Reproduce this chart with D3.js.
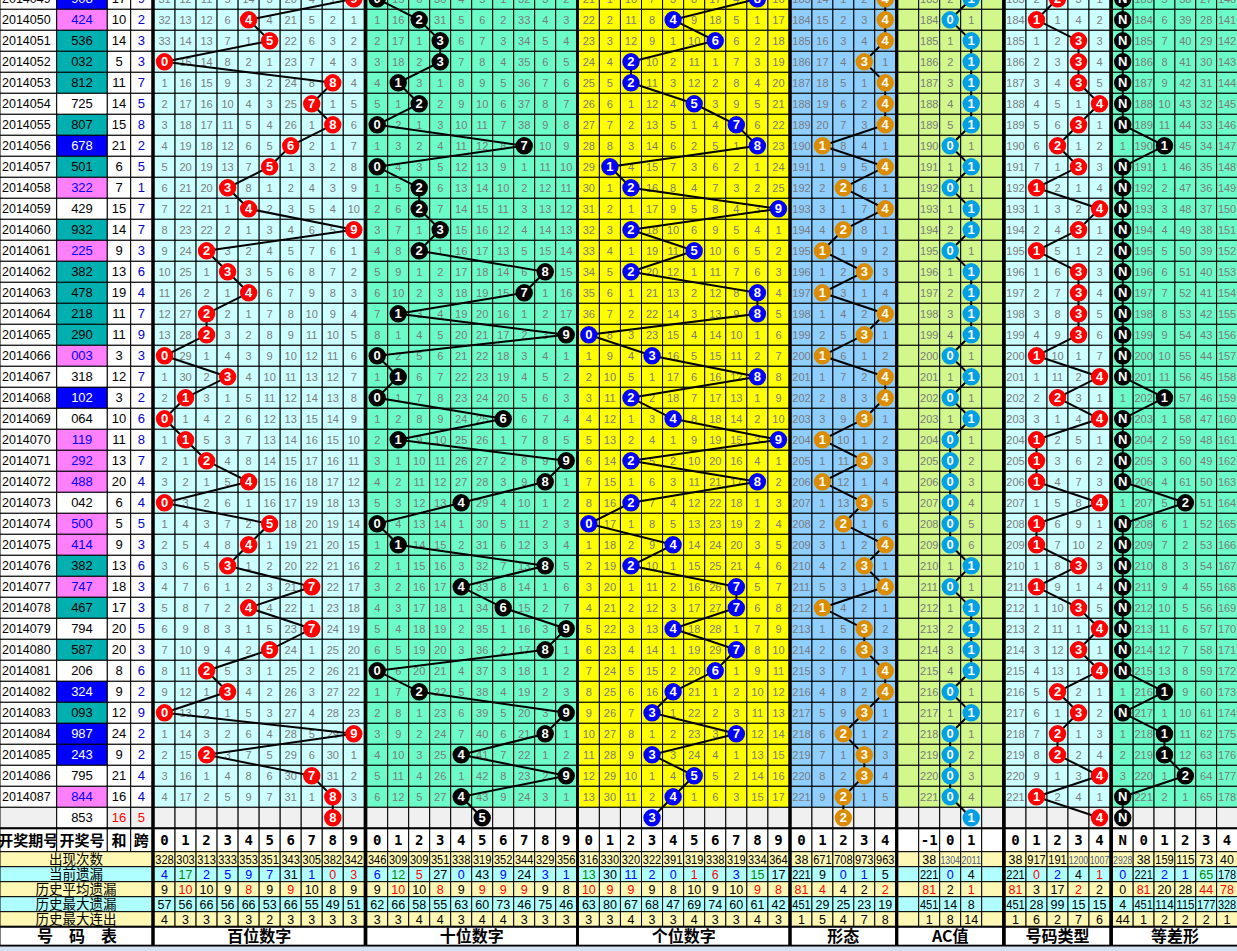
<!DOCTYPE html>
<html><head><meta charset="utf-8">
<script src="https://cdn.jsdelivr.net/npm/d3@7"></script>
<style>body{margin:0;background:#fff}svg{display:block}</style>
</head><body><svg id="c" width="1237" height="951"></svg>
<script>
// ---------------- DATA ----------------
const periods = ["2014049","2014050","2014051","2014052","2014053","2014054","2014055","2014056","2014057","2014058","2014059","2014060","2014061","2014062","2014063","2014064","2014065","2014066","2014067","2014068","2014069","2014070","2014071","2014072","2014073","2014074","2014075","2014076","2014077","2014078","2014079","2014080","2014081","2014082","2014083","2014084","2014085","2014086","2014087"];
const draws = ["908","424","536","032","812","725","807","678","501","322","429","932","225","382","478","218","290","003","318","102","064","119","292","488","042","500","414","382","747","467","794","587","206","324","093","987","243","795","844"];
const sums  = [17,10,14,5,11,14,15,21,6,7,15,14,9,13,19,11,11,3,12,3,10,11,13,20,6,5,9,13,18,17,20,20,8,9,12,24,9,21,16];
const spans = [9,2,3,3,7,5,8,2,5,1,7,7,3,6,4,7,9,3,7,2,6,8,7,4,4,5,3,6,3,3,5,3,6,2,9,2,2,4,4];
// b = consecutive (blue), t = teal, p = pair (pink), w = plain
const numTypes = ["b","p","t","t","t","w","t","b","t","p","w","t","p","t","t","t","t","p","w","b","w","p","p","p","w","p","p","t","p","t","w","t","w","b","t","b","b","w","p"];
const shapeSeq = [4,4,4,3,4,4,4,1,4,2,4,2,1,3,1,4,3,1,4,4,3,1,3,1,3,2,4,3,4,1,3,3,4,4,3,2,3,3,2];
const acSeq    = [1,0,1,1,1,1,1,0,1,0,1,1,0,1,1,1,1,0,1,0,1,0,0,0,0,0,0,1,0,1,1,1,1,0,1,0,0,0,0];
const typeSeq  = [2,1,3,3,3,4,3,2,3,1,4,3,1,3,3,3,3,1,4,2,4,1,1,1,4,1,1,3,1,3,4,3,4,2,3,2,2,4,1];
const apSeq    = ["N","N","N","N","N","N","N","1","N","N","N","N","N","N","N","N","N","N","N","1","N","N","N","N","2","N","N","N","N","N","N","N","N","1","N","1","1","2","N"];
// next-draw row
const nextNumber = "853", nextSum = 16, nextSpan = 5;
const nextBalls = ["8","5","3","2","1","4","N"];
// omission values shown in the first (2014049) row
const initBai   = [31,12,11,5,14,3,20,4,1,0];
const initShi   = [0,15,6,30,4,5,1,32,3,2];
const initGe    = [21,1,10,7,3,8,17,4,0,16];
const initShape = [183,14,1,2,0];
const initAC    = [183,2,0];
const initType  = [183,2,0,3,1];
const initAP    = [0,183,5,38,27,140];
// statistics rows (51 columns: 10+10+10+5+5(AC incl. blanks)+5+6)
const statOccur   = [328,303,313,333,353,351,343,305,382,342, 346,309,309,351,338,319,352,344,329,356, 316,330,320,322,391,319,338,319,334,364, 38,671,708,973,963, null,38,1304,2011,null, 38,917,191,1200,1007, 2928,38,159,115,73,40];
const statCurrent = [4,17,2,5,9,7,31,1,0,3, 6,12,5,27,0,43,9,24,3,1, 13,30,11,2,0,1,6,3,15,17, 221,9,0,1,5, null,221,0,4,null, 221,0,2,4,1, 0,221,2,1,65,178];
const statAvg     = [9,10,10,9,8,9,9,10,8,9, 9,10,10,8,9,9,9,9,9,8, 10,9,9,9,8,10,9,10,9,8, 81,4,4,2,2, null,81,2,1,null, 81,3,17,2,2, 0,81,20,28,44,78];
const statMax     = [57,56,66,56,66,53,66,55,49,51, 62,66,58,55,63,60,73,46,75,46, 63,80,67,68,47,69,74,60,61,42, 451,29,25,23,19, null,451,14,8,null, 451,28,99,15,15, 4,451,114,115,177,328];
const statRun     = [4,3,3,3,3,2,3,3,3,3, 3,3,4,4,3,4,4,3,3,3, 3,3,4,3,3,4,3,3,4,3, 1,5,4,7,8, null,1,8,14,null, 1,6,2,7,6, 44,1,2,2,2,1];
const colorsCurrent = "bgbbbbkbrr"+"bgrkbkbkbb"+"gkbbbrrbgk"+"kkbbk"+"-kbk-"+"krbkr"+"bkbbgk";
const colorsAvg     = "krkkrkrkkk"+"krkrkrrrkk"+"rrrkkkkkrr"+"rrkkr"+"-rkr-"+"rkkrk"+"krkkrr";
const statLabels = ["出现次数","当前遗漏","历史平均遗漏","历史最大遗漏","历史最大连出"];
const sectionLabels = ["百位数字","十位数字","个位数字","形态","AC值","号码类型","等差形"];
const digits = ["0","1","2","3","4","5","6","7","8","9"];

// ---------------- LAYOUT ----------------
const svg = d3.select("#c");
const FONT = "'Liberation Sans', Arial, sans-serif";
const CJK = "'Noto Sans CJK SC', sans-serif";
const rowKeys = periods.concat(["next"]);
const y = d3.scaleBand().domain(rowKeys).range([-11.7, -11.7 + rowKeys.length * 21]);
const rh = y.bandwidth();
const tableBottom = y("next") + rh; // 828.3
const headerY0 = tableBottom, headerY1 = 851.7;
const statY = d3.scaleBand().domain(statLabels).range([851.7, 926.7]);
const labelY0 = 926.7, labelY1 = 945.7;
const colorMap = {k:"#000", b:"#0000FF", g:"#008800", r:"#FF0000"};

const sections = [
  {key:"bai", x0:154, x1:364.3, cols:digits, active:digits, bg:"#CCFFFF", ball:"#FF0000", seq:draws.map(d=>d[0]), init:initBai},
  {key:"shi", x0:366.7, x1:576.7, cols:digits, active:digits, bg:"#6CFCC8", ball:"#000000", seq:draws.map(d=>d[1]), init:initShi},
  {key:"ge", x0:578.3, x1:789, cols:digits, active:digits, bg:"#FFFF00", ball:"#0000FF", seq:draws.map(d=>d[2]), init:initGe},
  {key:"shape", x0:791, x1:895.7, cols:["0","1","2","3","4"], active:["0","1","2","3","4"], bg:"#8ECFFF", ball:"#DC8C00", seq:shapeSeq.map(String), init:initShape},
  {key:"ac", x0:897.7, x1:1002.7, cols:["xa","-1","0","1","xb"], active:["-1","0","1"], bg:"#D2F88C", ball:"#00A0E6", seq:acSeq.map(String), init:initAC},
  {key:"type", x0:1005, x1:1110, cols:["0","1","2","3","4"], active:["0","1","2","3","4"], bg:"#CCFFFF", ball:"#FF0000", seq:typeSeq.map(String), init:initType},
  {key:"ap", x0:1112.3, x1:1237.5, cols:["N","0","1","2","3","4"], active:["N","0","1","2","3","4"], bg:"#6CFCC8", ball:"#000000", seq:apSeq, init:initAP}
];
sections.forEach((s,i)=>{ s.next = nextBalls[i]; s.label = sectionLabels[i]; });

// ---------------- LEFT COLUMNS ----------------
const left = svg.append("g");
const leftCols = [{x0:0,x1:56.7},{x0:56.7,x1:107.3},{x0:107.3,x1:130.7},{x0:130.7,x1:152}];
const typeFill = {b:"#0000FF", t:"#00B0B0", p:"#FF80FF", w:"#FFFFFF"};
const typeText = {b:"#FFFFFF", t:"#000000", p:"#0000FF", w:"#000000"};
periods.forEach((p,i)=>{
  const yy = y(p), cy = yy + rh/2 + 4.5;
  left.append("rect").attr("x",0).attr("y",yy).attr("width",56.7).attr("height",rh).attr("fill","#fff").attr("stroke","#000");
  left.append("rect").attr("x",56.7).attr("y",yy).attr("width",50.6).attr("height",rh).attr("fill",typeFill[numTypes[i]]).attr("stroke","#000");
  left.append("rect").attr("x",107.3).attr("y",yy).attr("width",23.4).attr("height",rh).attr("fill","#fff").attr("stroke","#000");
  left.append("rect").attr("x",130.7).attr("y",yy).attr("width",21.3).attr("height",rh).attr("fill","#fff").attr("stroke","#000");
  left.append("text").attr("x",2).attr("y",cy).text(p).attr("font-family",FONT).attr("font-size",12.5).attr("fill","#000");
  left.append("text").attr("x",82).attr("y",cy).attr("text-anchor","middle").text(draws[i]).attr("font-family",FONT).attr("font-size",13).attr("fill",typeText[numTypes[i]]);
  left.append("text").attr("x",119).attr("y",cy).attr("text-anchor","middle").text(sums[i]).attr("font-family",FONT).attr("font-size",13).attr("fill","#000");
  left.append("text").attr("x",141.3).attr("y",cy).attr("text-anchor","middle").text(spans[i]).attr("font-family",FONT).attr("font-size",13).attr("fill","#0000CC");
});
{
  const yy = y("next"), cy = yy + rh/2 + 4.5;
  leftCols.forEach((c,j)=>left.append("rect").attr("x",c.x0).attr("y",yy).attr("width",c.x1-c.x0).attr("height",rh).attr("fill", j===1?"#fff":"#F0F0F0").attr("stroke","#000"));
  left.append("text").attr("x",82).attr("y",cy).attr("text-anchor","middle").text(nextNumber).attr("font-family",FONT).attr("font-size",13).attr("fill","#000");
  left.append("text").attr("x",119).attr("y",cy).attr("text-anchor","middle").text(nextSum).attr("font-family",FONT).attr("font-size",13).attr("fill","#FF0000");
  left.append("text").attr("x",141.3).attr("y",cy).attr("text-anchor","middle").text(nextSpan).attr("font-family",FONT).attr("font-size",13).attr("fill","#FF0000");
}

// ---------------- SECTIONS ----------------
sections.forEach(s=>{
  const x = d3.scaleBand().domain(s.cols).range([s.x0, s.x1]);
  s.x = x;
  const bw = x.bandwidth();
  const miss = [];
  s.seq.forEach((v,i)=>{
    const row = {};
    s.active.forEach((c,j)=>{ row[c] = i===0 ? s.init[j] : (v===c ? 0 : miss[i-1][c]+1); });
    miss.push(row);
  });
  const g = svg.append("g");
  rowKeys.forEach((rk,i)=>{
    s.cols.forEach(c=>{
      g.append("rect").attr("x",x(c)).attr("y",y(rk)).attr("width",bw).attr("height",rh)
        .attr("fill", rk==="next" ? "#F0F0F0" : s.bg).attr("stroke","#000").attr("stroke-width",1);
    });
    if (rk==="next") return;
    s.active.forEach(c=>{
      if (s.seq[i]===c) return;
      g.append("text").attr("x",x(c)+bw/2).attr("y",y(rk)+rh/2+4).attr("text-anchor","middle")
        .attr("font-family",FONT).attr("font-size",11).attr("fill","#7a7a7a").text(miss[i][c]);
    });
  });
  s.pts = s.seq.map((v,i)=>[x(v)+bw/2, y(periods[i])+rh/2]).concat([[x(s.next)+bw/2, y("next")+rh/2]]);
  s.labels = s.seq.concat([s.next]);
});
const lg = svg.append("g");
sections.forEach(s=>{
  lg.append("path").attr("d", d3.line()(s.pts)).attr("fill","none").attr("stroke","#000").attr("stroke-width",2);
});
const bg = svg.append("g");
sections.forEach(s=>{
  s.pts.forEach((p,i)=>{
    bg.append("circle").attr("cx",p[0]).attr("cy",p[1]).attr("r",8.7).attr("fill",s.ball);
    bg.append("text").attr("x",p[0]).attr("y",p[1]+4.6).attr("text-anchor","middle")
      .attr("font-family",FONT).attr("font-weight","bold").attr("font-size",13).attr("fill","#fff").text(s.labels[i]);
  });
});

// ---------------- HEADER / STATS ----------------
const st = svg.append("g");
const leftHead = ["开奖期号","开奖号","和","跨"];
leftCols.forEach((c,j)=>{
  st.append("rect").attr("x",c.x0).attr("y",headerY0).attr("width",c.x1-c.x0).attr("height",headerY1-headerY0).attr("fill","#fff").attr("stroke","#000");
  st.append("text").attr("x",(c.x0+c.x1)/2).attr("y",headerY0+17.5).attr("text-anchor","middle")
    .attr("font-family",CJK).attr("font-weight","bold").attr("font-size",15).attr("fill","#000").text(leftHead[j]);
});
const rowFills = ["#FFF8B4","#B0FFFF","#FFF8B4","#B0FFFF","#FFF8B4"];
const statData = [statOccur, statCurrent, statAvg, statMax, statRun];
const statColors = [null, colorsCurrent, colorsAvg, null, null];
statLabels.forEach((lab,r)=>{
  st.append("rect").attr("x",0).attr("y",statY(lab)).attr("width",152).attr("height",statY.bandwidth()).attr("fill",rowFills[r]).attr("stroke","#000");
  st.append("text").attr("x",76).attr("y",statY(lab)+12).attr("text-anchor","middle")
    .attr("font-family",CJK).attr("font-size",13.5).attr("fill","#000").text(lab);
});
st.append("rect").attr("x",0).attr("y",labelY0).attr("width",152).attr("height",labelY1-labelY0).attr("fill","#fff").attr("stroke","#000");
st.append("text").attr("x",77).attr("y",labelY0+15.5).attr("text-anchor","middle").attr("font-family",CJK).attr("font-weight","bold")
  .attr("font-size",16).attr("fill","#000").text("号　码　表");

let colIndex = 0;
sections.forEach(s=>{
  const x = s.x, bw = x.bandwidth();
  s.cols.forEach(c=>{
    const blank = c.startsWith("x");
    st.append("rect").attr("x",x(c)).attr("y",headerY0).attr("width",bw).attr("height",headerY1-headerY0).attr("fill","#fff").attr("stroke","#000");
    if (!blank) st.append("text").attr("x",x(c)+bw/2).attr("y",headerY0+17).attr("text-anchor","middle")
      .attr("font-family","'DejaVu Sans Mono', monospace").attr("font-weight","bold").attr("font-size",14).attr("fill","#000").text(c);
    statLabels.forEach((lab,r)=>{
      st.append("rect").attr("x",x(c)).attr("y",statY(lab)).attr("width",bw).attr("height",statY.bandwidth()).attr("fill",rowFills[r]).attr("stroke","#000");
      const v = statData[r][colIndex];
      if (v===null || v===undefined) return;
      const col = statColors[r] ? colorMap[statColors[r][colIndex]] || "#000" : "#000";
      const t = st.append("text").attr("x",x(c)+bw/2).attr("y",statY(lab)+12).attr("text-anchor","middle")
        .attr("font-family",FONT).attr("fill",col).text(v);
      if (String(v).length>=4) t.attr("font-size",10.5).attr("textLength",bw-1.5).attr("lengthAdjust","spacingAndGlyphs").attr("fill","#4a5a7a");
      else if (String(v).length===3) t.attr("font-size",12).attr("textLength",bw-2.5).attr("lengthAdjust","spacingAndGlyphs");
      else t.attr("font-size",12.5);
    });
    colIndex++;
  });
  st.append("rect").attr("x",s.x0).attr("y",labelY0).attr("width",s.x1-s.x0).attr("height",labelY1-labelY0).attr("fill","#fff").attr("stroke","#000");
  st.append("text").attr("x",(s.x0+s.x1)/2).attr("y",labelY0+15.5).attr("text-anchor","middle").attr("font-family",CJK)
    .attr("font-weight","bold").attr("font-size",16).attr("fill","#000").text(s.label);
});

// thick separators
const sepG = svg.append("g");
const bounds = [{a:152,b:154}].concat(sections.slice(0,-1).map((s,i)=>({a:s.x1,b:sections[i+1].x0})));
bounds.forEach(bd=>{
  sepG.append("rect").attr("x",bd.a-0.5).attr("y",0).attr("width",bd.b-bd.a+1).attr("height",labelY1).attr("fill","#000");
});
[tableBottom, labelY0, labelY1].forEach(yv=>{
  sepG.append("rect").attr("x",0).attr("y",yv-1).attr("width",1237).attr("height",2).attr("fill","#000");
});
svg.append("rect").attr("x",0).attr("y",labelY1+1).attr("width",1237).attr("height",951-labelY1).attr("fill","#D2E2F4");
</script>
</body></html>
